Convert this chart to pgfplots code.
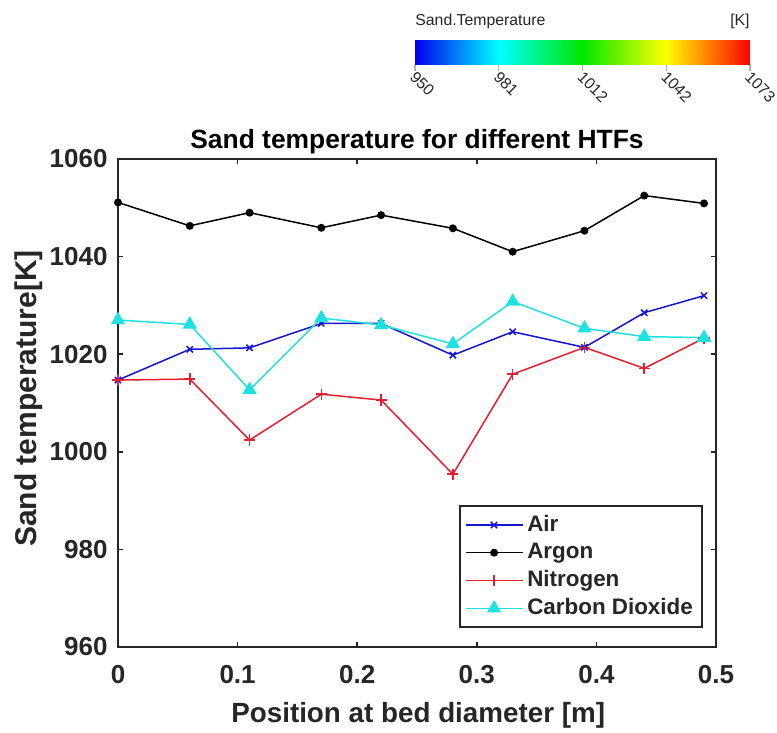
\documentclass[border=0pt]{standalone}
\usepackage{fontspec}
\setmainfont{Liberation Sans}
\usepackage{pgfplots}
\pgfplotsset{compat=1.18}
\definecolor{airblue}{RGB}{20,20,210}
\definecolor{n2red}{RGB}{230,30,45}
\definecolor{co2cyan}{RGB}{30,225,225}
\definecolor{txt}{RGB}{38,38,38}
\newcommand{\tickfont}{\fontsize{13}{15}\selectfont\bfseries}
\newcommand{\titfont}{\fontsize{13.2}{15}\selectfont\bfseries}
\newcommand{\xlabfont}{\fontsize{13.9}{16}\selectfont\bfseries}
\newcommand{\ylabfont}{\fontsize{15}{17}\selectfont\bfseries}
\newcommand{\legfont}{\fontsize{11.2}{13}\selectfont\bfseries}
\newcommand{\cbfont}{\fontsize{7.9}{9}\selectfont}
\begin{document}
\begin{tikzpicture}
\useasboundingbox (-59pt,-43pt) rectangle (329.5pt,323.5pt);
\begin{axis}[
  at={(0,0)}, anchor=south west,
  scale only axis, width=299pt, height=244pt,
  xmin=0, xmax=0.5, ymin=960, ymax=1060,
  xtick={0,0.1,0.2,0.3,0.4,0.5}, xticklabels={0,0.1,0.2,0.3,0.4,0.5},
  ytick={960,980,1000,1020,1040,1060}, yticklabels={960,980,1000,1020,1040,1060},
  tick align=inside, major tick length=2.6pt,
  axis line style={line width=1pt, txt},
  tick style={line width=0.8pt, txt},
  ticklabel style={font=\tickfont, text=txt},
  xticklabel style={yshift=-5.5pt},
  yticklabel style={xshift=-1.7pt},
  title={Sand temperature for different HTFs},
  title style={font=\titfont, at={(axis description cs:0.5,1)}, anchor=south, yshift=-7pt},
  xlabel={Position at bed diameter [m]},
  xlabel style={font=\xlabfont, text=txt, at={(axis description cs:0.502,-0.141)}, anchor=center},
  ylabel={Sand temperature[K]},
  ylabel style={font=\ylabfont, text=txt, at={(axis description cs:-0.150,0.509)}, anchor=center},
  legend style={at={(0.978,0.039)}, anchor=south east, font=\legfont, draw=txt, line width=1pt,
    row sep=0.4pt, inner sep=2.5pt, text=txt},
  legend cell align=left,
  legend image code/.code={\draw[mark repeat=2,mark phase=2] plot coordinates {(0cm,0cm) (0.5cm,0cm) (1cm,0cm)};},
]
\addplot[airblue, line width=0.75pt, mark=x, mark size=2.2pt, mark options={solid}] coordinates {
(0,1014.7) (0.06,1021.0) (0.11,1021.3) (0.17,1026.3) (0.22,1026.3) (0.28,1019.8) (0.33,1024.6) (0.39,1021.4) (0.44,1028.5) (0.49,1032.0)};
\addlegendentry{Air}
\addplot[black, line width=0.75pt, mark=*, mark size=1.6pt] coordinates {
(0,1051.1) (0.06,1046.3) (0.11,1049.0) (0.17,1045.9) (0.22,1048.5) (0.28,1045.8) (0.33,1041.0) (0.39,1045.3) (0.44,1052.5) (0.49,1050.9)};
\addlegendentry{Argon}
\addplot[n2red, line width=0.75pt, mark=+, mark size=2.8pt] coordinates {
(0,1014.7) (0.06,1014.9) (0.11,1002.4) (0.17,1011.8) (0.22,1010.6) (0.28,995.4) (0.33,1015.9) (0.39,1021.4) (0.44,1017.1) (0.49,1023.3)};
\addlegendentry{Nitrogen}
\addplot[co2cyan, line width=0.75pt, mark=triangle*, mark size=3.4pt] coordinates {
(0,1027.0) (0.06,1026.1) (0.11,1012.7) (0.17,1027.4) (0.22,1026.0) (0.28,1022.1) (0.33,1030.8) (0.39,1025.3) (0.44,1023.6) (0.49,1023.4)};
\addlegendentry{Carbon Dioxide}
\end{axis}
\begin{axis}[
  at={(148.5pt,291pt)}, anchor=south west,
  scale only axis, width=167.5pt, height=12.5pt,
  xmin=950, xmax=1073, ymin=0, ymax=1, view={0}{90},
  colormap={rb}{rgb255=(0,0,235) rgb255=(0,255,255) rgb255=(0,230,0) rgb255=(255,255,0) rgb255=(255,0,0)},
  axis line style={draw=none},
  ytick=\empty,
  xtick={950,980.75,1011.5,1042.25,1073}, xticklabels={950,981,1012,1042,1073},
  xtick pos=bottom, xtick align=outside, major tick length=3pt,
  tick style={gray!60, line width=0.6pt},
  xticklabel style={rotate=-45, anchor=west, font=\cbfont, text=txt, xshift=-3pt, yshift=-2pt},
  clip=false,
]
\addplot3[surf, shader=interp, point meta=x, mesh/rows=2] coordinates {
(950,0,0) (980.75,0,0) (1011.5,0,0) (1042.25,0,0) (1073,0,0)

(950,1,0) (980.75,1,0) (1011.5,1,0) (1042.25,1,0) (1073,1,0)};
\node[anchor=south west, font=\cbfont, text=txt, inner sep=0pt] at (axis description cs:0,1) [yshift=5.5pt] {Sand.Temperature};
\node[anchor=south east, font=\cbfont, text=txt, inner sep=0pt] at (axis description cs:1,1) [yshift=5.5pt] {[K]};
\end{axis}
\end{tikzpicture}
\end{document}
